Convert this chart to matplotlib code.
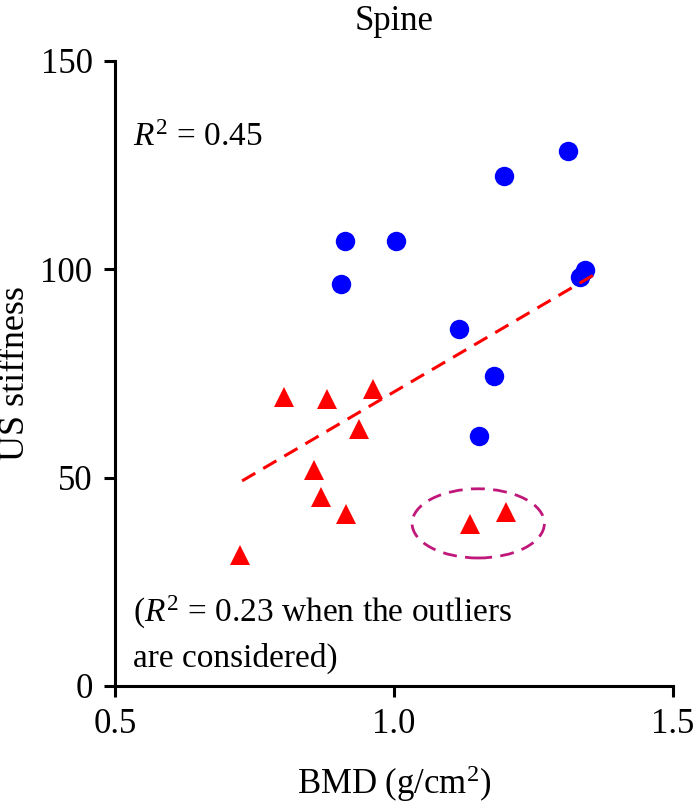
import matplotlib
matplotlib.use('Agg')
import matplotlib.pyplot as plt
from matplotlib.patches import Ellipse

plt.rcParams['font.family'] = ['Liberation Serif', 'DejaVu Serif']
plt.rcParams['mathtext.fontset'] = 'custom'
plt.rcParams['mathtext.rm'] = 'Liberation Serif'
plt.rcParams['mathtext.it'] = 'Liberation Serif:italic'

# blue group (circles)
bmd_blue = [1.311, 1.197, 0.913, 1.004, 0.906, 1.342, 1.333, 1.116, 1.179, 1.152]
us_blue = [128.2, 122.3, 106.8, 106.8, 96.3, 99.8, 98.2, 85.7, 74.4, 60.0]

# red group (triangles)
bmd_red = [0.803, 0.880, 0.963, 0.938, 0.856, 0.870, 0.914, 0.725, 1.137, 1.200]
us_red = [69.4, 68.8, 71.2, 61.7, 51.7, 45.3, 41.3, 31.3, 38.9, 41.8]

# regression line end points
fit_x = [0.728, 1.367]
fit_y = [49.2, 99.3]

# outlier ellipse (centre, width, height in data units)
outlier_center = (1.151, 39.0)
outlier_w, outlier_h = 0.237, 16.6

fig = plt.figure(figsize=(6.96, 8.08), dpi=100)
ax = fig.add_axes([0.165, 0.151, 0.802, 0.774])

ax.plot(bmd_blue, us_blue, 'o', color='#0000ff', markersize=14, markeredgewidth=0)
ax.plot(bmd_red, us_red, '^', color='#ff0000', markersize=14, markeredgewidth=0)
ax.plot(fit_x, fit_y, '--', color='#ff0000', linewidth=2.2, dashes=(5, 3))

ax.add_patch(Ellipse(outlier_center, outlier_w, outlier_h, fill=False,
                     edgecolor='#c0177a', linewidth=2, linestyle=(0, (5, 3))))

ax.text(0.532, 129.5, r'$R^2$ = 0.45', fontsize=24, va='baseline')
ax.text(0.532, 4.6, '($R^2$ = 0.23 when the outliers\nare considered)',
        fontsize=24, va='baseline', linespacing=1.5)

ax.set_xlim(0.5, 1.5)
ax.set_ylim(0, 150)
ax.set_xticks([0.5, 1.0, 1.5])
ax.set_xticklabels(['0.5', '1.0', '1.5'])
ax.set_yticks([0, 50, 100, 150])

for s in ['top', 'right']:
    ax.spines[s].set_visible(False)
for s in ['left', 'bottom']:
    ax.spines[s].set_linewidth(2.2)
ax.tick_params(width=2.2, length=8, labelsize=25, pad=8)

ax.set_xlabel('BMD (g/cm$^2$)', fontsize=25, labelpad=16)
ax.set_ylabel('US stiffness', fontsize=26, labelpad=6)
ax.set_title('Spine', fontsize=25, pad=22)

fig.savefig('out.png', dpi=100)
